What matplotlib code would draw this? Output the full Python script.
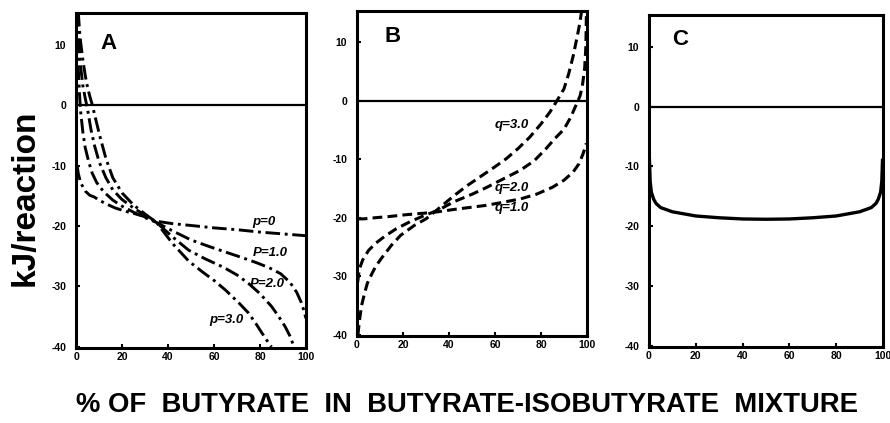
import matplotlib
matplotlib.use('Agg')
import matplotlib.pyplot as plt

plt.rcParams['font.family'] = ['Liberation Sans', 'DejaVu Sans']
plt.rcParams['font.weight'] = 'bold'
plt.rcParams['axes.unicode_minus'] = False

########################### Data ###############################################
# panel A, dash-dot curves for p = 0, 1, 2, 3
a_p0_x = [0.5, 1, 2, 4, 6, 8, 10, 13, 17, 22, 28, 35, 42, 50, 60, 70, 80, 90, 100]
a_p0_y = [-10.0, -11.3, -12.8, -14.2, -14.9, -15.2, -15.7, -16.3, -17.0, -17.6, -18.2, -19.2,
          -19.6, -19.9, -20.3, -20.6, -21.0, -21.3, -21.6]

a_p1_x = [0.4, 0.7, 1.0, 1.5, 2, 3, 4, 5.5, 7, 9, 12, 16, 20, 25, 30, 35, 42, 50, 58, 65,
          72, 78, 84, 89, 93, 96, 98, 99, 100]
a_p1_y = [15.5, 10, 6, 2, -1, -4.5, -7, -9.3, -11.2, -12.8, -14.3, -15.7, -16.7, -17.7, -18.6,
          -19.4, -20.8, -22.3, -23.4, -24.3, -25.2, -26.0, -26.9, -27.9, -29.3, -31.0, -32.7,
          -33.9, -35.3]

a_p2_x = [0.6, 1, 1.5, 2, 3, 4, 5, 6.5, 8, 10, 13, 16, 20, 25, 30, 35, 42, 49, 56, 64, 70,
          75, 80, 85, 88, 91, 93, 94.8]
a_p2_y = [15.5, 12, 9, 6.5, 3.2, 1.2, -0.6, -4, -6.6, -9.3, -12.0, -14.0, -15.6, -17.0, -18.2,
          -19.4, -21.8, -24.0, -25.4, -26.8, -28.1, -29.5, -31.2, -33.3, -34.9, -36.7, -38.2, -40]

a_p3_x = [1, 1.5, 2, 3, 4, 5, 6, 7, 8.5, 10.5, 13, 16, 20, 25, 30, 35, 42, 49, 55, 60, 65,
          71, 75, 78.3, 81, 84, 85]
a_p3_y = [15.5, 12.5, 10.5, 7.5, 5, 3, 1.5, 0.2, -2.2, -5.3, -8.8, -12.0, -14.5, -16.5, -18.0,
          -19.4, -22.9, -25.8, -27.6, -29.0, -30.6, -32.8, -34.4, -36.2, -37.8, -39.5, -40]

# panel B, dashed curves for q = 1, 2, 3
b_q1_x = [0.3, 3, 8, 14, 21, 30, 35, 42, 50, 56, 63, 71, 78, 85, 90, 94, 96.5, 98.3, 99.3, 99.7]
b_q1_y = [-20.2, -20.2, -20.0, -19.8, -19.5, -19.2, -19.0, -18.6, -18.2, -17.9, -17.4, -16.8,
          -16.0, -14.8, -13.6, -12.2, -10.8, -9.1, -7.9, -7.3]

b_q2_x = [0.3, 1, 2.5, 5, 8, 12, 17, 23, 30, 35, 42, 50, 56, 63, 71, 77, 82, 86, 90, 93, 95,
          97, 98, 99, 99.5, 99.8]
b_q2_y = [-31, -28.8, -27.2, -25.6, -24.4, -23.2, -21.9, -20.7, -19.5, -18.8, -17.3, -16.0,
          -14.9, -13.5, -11.9, -10.3, -8.3, -6.5, -4.9, -2.8, -1.0, 0.8, 2.5, 5.5, 9, 15.5]

b_q3_x = [0.4, 1.1, 2, 3.3, 4.5, 6.2, 8, 10.5, 15, 19, 25, 30, 35, 42, 48, 54, 60, 65, 70, 75,
          80, 84, 87, 90, 92, 94, 96, 97, 97.8]
b_q3_y = [-40, -37.5, -35, -32.9, -31.2, -29.8, -28.4, -27.0, -24.7, -23.0, -21.3, -20.2,
          -18.6, -16.3, -14.5, -12.9, -11.3, -9.9, -8.2, -6.3, -4.0, -1.9, 0, 2.0, 4.5, 7.6,
          11.4, 13.5, 15.6]

# panel C, solid curve
c_x = [0.2, 0.5, 1, 2, 3, 5, 10, 20, 30, 40, 50, 60, 70, 80, 90, 95, 97, 98, 99, 99.5, 99.8]
c_y = [-9, -12.5, -14.3, -15.5, -16.2, -16.9, -17.6, -18.3, -18.6, -18.8, -18.85, -18.8,
       -18.6, -18.3, -17.6, -16.9, -16.2, -15.5, -14.3, -12.5, -9]

x_ticks = [0, 20, 40, 60, 80, 100]
y_ticks = [10, 0, -10, -20, -30, -40]

########################### Figure ##############################
fig = plt.figure(figsize=(8.9, 4.23), dpi=100)

axA = fig.add_axes([0.0854, 0.1773, 0.2584, 0.792])
axB = fig.add_axes([0.4011, 0.2057, 0.2584, 0.7683])
axC = fig.add_axes([0.7292, 0.1797, 0.2629, 0.7849])

for ax in (axA, axB, axC):
    ax.set_xlim(0, 100)
    ax.set_ylim(-40.2, 15.3)
    ax.set_xticks(x_ticks)
    ax.set_yticks(y_ticks)
    ax.set_xticklabels([str(t) for t in x_ticks])
    ax.set_yticklabels([str(t) for t in y_ticks])
    ax.tick_params(direction='in', length=3, width=1.5, labelsize=7.5, pad=3)
    ax.tick_params(axis='y', pad=7)
    for s in ax.spines.values():
        s.set_linewidth(2.2)
    ax.axhline(0, color='black', lw=1.6)

dashdot = (5, 1.6, 1, 1.6)
dash = (3.2, 1.7)

## Panel A
for xs, ys in [(a_p0_x, a_p0_y), (a_p1_x, a_p1_y), (a_p2_x, a_p2_y), (a_p3_x, a_p3_y)]:
    l, = axA.plot(xs, ys, color='black', lw=2.1)
    l.set_dashes(dashdot)
axA.text(10.5, 10.2, 'A', fontsize=16, fontweight='bold', va='center')
axA.text(76.7, -19.4, 'p=0', fontsize=9.5, style='italic', va='center')
axA.text(76.7, -24.4, 'P=1.0', fontsize=9.5, style='italic', va='center')
axA.text(75.4, -29.6, 'P=2.0', fontsize=9.5, style='italic', va='center')
axA.text(58, -35.6, 'p=3.0', fontsize=9.5, style='italic', va='center')

## Panel B
for xs, ys in [(b_q1_x, b_q1_y), (b_q2_x, b_q2_y), (b_q3_x, b_q3_y)]:
    l, = axB.plot(xs, ys, color='black', lw=2.2)
    l.set_dashes(dash)
axB.text(12, 10.9, 'B', fontsize=16, fontweight='bold', va='center')
axB.text(60, -4.1, 'q=3.0', fontsize=9.5, style='italic', va='center')
axB.text(60, -15.0, 'q=2.0', fontsize=9.5, style='italic', va='center')
axB.text(60, -18.4, 'q=1.0', fontsize=9.5, style='italic', va='center')

## Panel C
axC.plot(c_x, c_y, color='black', lw=2.4)
axC.text(9.8, 11.2, 'C', fontsize=16, fontweight='bold', va='center')

fig.text(0.028, 1 - 198 / 423, 'kJ/reaction', rotation=90, fontsize=24,
         fontweight='bold', ha='center', va='center')
fig.text(0.525, 1 - 405 / 423, '% OF  BUTYRATE  IN  BUTYRATE-ISOBUTYRATE  MIXTURE',
         fontsize=19.8, fontweight='bold', ha='center', va='center')

fig.savefig('out.png', dpi=100)
